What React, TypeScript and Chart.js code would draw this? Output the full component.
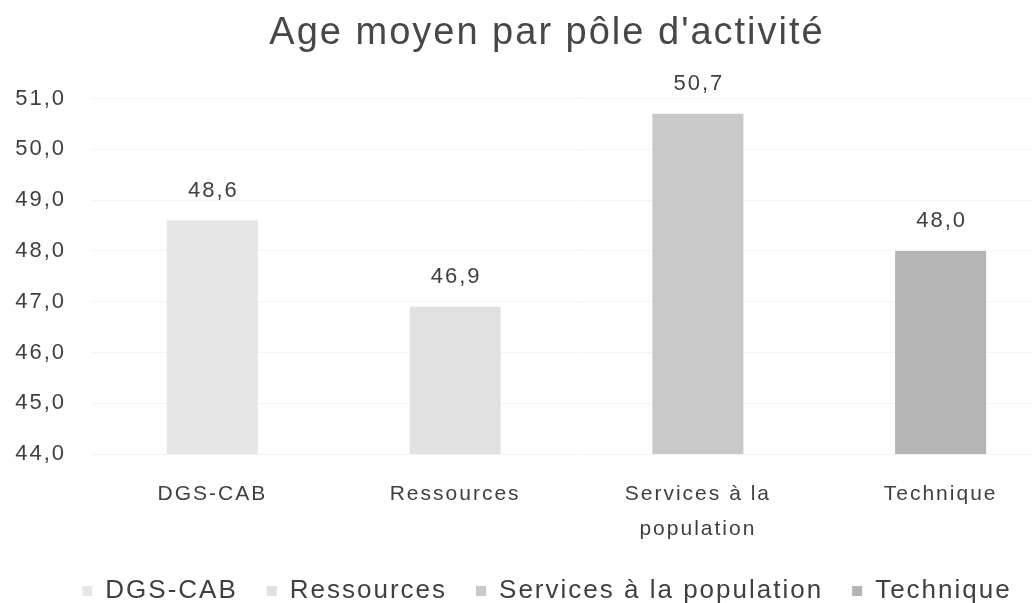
import React, { useEffect, useRef } from "react";
import { Chart, registerables } from "chart.js";

Chart.register(...registerables);

const categories = ["DGS-CAB", "Ressources", "Services à la population", "Technique"];
const xTickLabels: (string | string[])[] = ["DGS-CAB", "Ressources", ["Services à la", "population"], "Technique"];
const values = [48.6, 46.9, 50.7, 48.0];
const barColors = ["#e6e6e6", "#e1e1e1", "#c9c9c9", "#b4b4b4"];
const yMin = 44;
const yMax = 51;
const titleText = "Age moyen par pôle d'activité";

const FONT = "'Liberation Sans', Arial, sans-serif";
const TEXT = "#404040";
const SPACING = "2px";
const fmt = (v: number) => v.toFixed(1).replace(".", ",");

const spacingPlugin = {
  id: "letterSpacing",
  beforeInit(chart: any) { chart.ctx.letterSpacing = SPACING; },
  beforeUpdate(chart: any) { chart.ctx.letterSpacing = SPACING; },
  beforeLayout(chart: any) { chart.ctx.letterSpacing = SPACING; },
  beforeDraw(chart: any) { chart.ctx.letterSpacing = SPACING; },
};

const valueLabelPlugin = {
  id: "valueLabels",
  afterDatasetsDraw(chart: any) {
    const ctx = chart.ctx;
    ctx.save();
    ctx.letterSpacing = SPACING;
    ctx.font = `22px ${FONT}`;
    ctx.fillStyle = TEXT;
    ctx.textAlign = "center";
    ctx.textBaseline = "middle";
    chart.data.datasets.forEach((ds: any, di: number) => {
      const meta = chart.getDatasetMeta(di);
      meta.data.forEach((el: any, idx: number) => {
        const v = ds.data[idx];
        if (v === null || v === undefined) return;
        ctx.fillText(fmt(v), el.x + 1, el.y - 30);
      });
    });
    ctx.restore();
  },
};

export default function App() {
  const ref = useRef<HTMLCanvasElement | null>(null);

  useEffect(() => {
    if (!ref.current) return;
    const datasets = categories.map((c, i) => ({
      label: c,
      data: categories.map((_, j) => (j === i ? values[i] : null)),
      backgroundColor: barColors[i],
      borderWidth: 0,
      grouped: false,
      categoryPercentage: 1,
      barPercentage: 0.375,
    }));
    const chart = new Chart(ref.current, {
      type: "bar",
      data: { labels: xTickLabels as any, datasets: datasets as any },
      options: {
        responsive: false,
        animation: false,
        layout: { padding: { left: 0, right: 0, top: 0, bottom: -11 } },
        plugins: {
          title: {
            display: true,
            text: titleText,
            color: "#474747",
            font: { family: FONT, size: 38, weight: "normal" },
            padding: { top: 11, bottom: 42 },
          },
          legend: {
            display: true,
            position: "bottom",
            labels: {
              boxWidth: 10,
              boxHeight: 10,
              padding: 29,
              color: TEXT,
              font: { family: FONT, size: 26 },
            },
          },
          tooltip: { enabled: false },
        },
        scales: {
          x: {
            grid: { display: false },
            border: { display: false },
            ticks: {
              color: TEXT,
              font: { family: FONT, size: 21, lineHeight: 1.65 },
              padding: 15,
              maxRotation: 0,
              autoSkip: false,
            },
            afterFit(scale: any) { scale.height = 95; },
          },
          y: {
            min: yMin,
            max: yMax,
            grid: { color: "#f4f4f4", drawTicks: false },
            border: { display: false },
            ticks: {
              stepSize: 1,
              color: TEXT,
              font: { family: FONT, size: 22 },
              padding: 25,
              callback: (v: any) => fmt(Number(v)),
            },
            afterFit(scale: any) { scale.width = 91; },
          },
          yRight: {
            type: "linear",
            position: "right",
            display: true,
            grid: { display: false, drawTicks: false },
            border: { display: false },
            ticks: { display: false },
            afterFit(scale: any) { scale.width = 32; },
          },
        },
      } as any,
      plugins: [spacingPlugin, valueLabelPlugin],
    });
    return () => chart.destroy();
  }, []);

  return (
    <div style={{ position: "absolute", left: 0, top: 0, width: 1032, height: 603, overflow: "hidden", background: "#fff" }}>
      <canvas ref={ref} width={1094} height={603} style={{ width: "1094px", height: "603px", display: "block" }} />
    </div>
  );
}
